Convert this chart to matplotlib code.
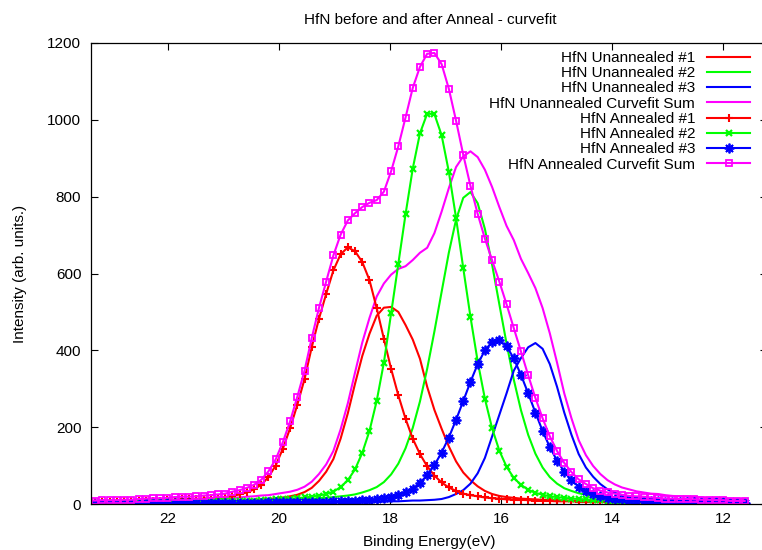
import matplotlib
matplotlib.use("Agg")
import matplotlib.pyplot as plt

plt.rcParams['font.family'] = ['Liberation Sans', 'DejaVu Sans']

# binding energy grid (eV), shared by all curves
energy = [23.44, 23.31, 23.18, 23.05, 22.92, 22.79, 22.66, 22.53, 22.40, 22.27,
          22.14, 22.01, 21.88, 21.75, 21.62, 21.49, 21.36, 21.23, 21.10, 20.97,
          20.84, 20.71, 20.58, 20.45, 20.32, 20.19, 20.06, 19.93, 19.80, 19.67,
          19.54, 19.41, 19.28, 19.15, 19.02, 18.89, 18.76, 18.63, 18.50, 18.37,
          18.24, 18.11, 17.98, 17.85, 17.72, 17.59, 17.46, 17.33, 17.20, 17.07,
          16.94, 16.81, 16.68, 16.55, 16.42, 16.29, 16.16, 16.03, 15.90, 15.77,
          15.64, 15.51, 15.38, 15.25, 15.12, 14.99, 14.86, 14.73, 14.60, 14.47,
          14.34, 14.21, 14.08, 13.95, 13.82, 13.69, 13.56, 13.43, 13.30, 13.17,
          13.04, 12.91, 12.78, 12.65, 12.52, 12.39, 12.26, 12.13, 12.00, 11.87,
          11.74, 11.61]

unann_1 = [3, 3, 3, 3, 3, 4, 4, 4, 4, 4,
           5, 5, 5, 5, 6, 6, 6, 7, 7, 8,
           8, 9, 10, 11, 12, 13, 15, 17, 20, 24,
           31, 42, 60, 84, 117, 170, 236, 313, 385, 443,
           490, 511, 513, 500, 466, 428, 378, 305, 245, 196,
           150, 111, 82, 62, 46, 34, 26, 21, 18, 16,
           14, 13, 12, 11, 10, 10, 9, 9, 8, 8,
           7, 7, 7, 6, 6, 6, 5, 5, 5, 5,
           4, 4, 4, 4, 4, 4, 3, 3, 3, 3,
           3, 3]

unann_2 = [2, 3, 3, 3, 3, 3, 3, 3, 3, 4,
           4, 4, 4, 4, 4, 5, 5, 5, 6, 6,
           6, 7, 7, 7, 8, 8, 9, 10, 11, 11,
           12, 13, 15, 16, 18, 20, 22, 25, 30, 36,
           44, 57, 77, 105, 145, 198, 267, 352, 449, 552,
           654, 740, 797, 812, 783, 716, 623, 520, 418, 324,
           244, 180, 131, 95, 70, 53, 41, 34, 28, 24,
           21, 19, 17, 16, 14, 13, 12, 11, 10, 10,
           9, 8, 8, 7, 7, 6, 6, 6, 5, 5,
           5, 5]

unann_3 = [1, 1, 1, 1, 1, 1, 1, 1, 1, 1,
           1, 1, 1, 1, 1, 2, 2, 2, 2, 2,
           2, 2, 2, 2, 2, 2, 2, 2, 2, 2,
           2, 3, 3, 3, 3, 4, 4, 4, 5, 5,
           6, 6, 7, 7, 8, 9, 9, 10, 11, 13,
           18, 26, 36, 53, 80, 120, 176, 232, 288, 347,
           380, 408, 419, 404, 364, 305, 238, 180, 130, 95,
           71, 52, 38, 29, 23, 19, 16, 14, 12, 11,
           10, 9, 8, 8, 7, 7, 6, 6, 6, 5,
           5, 5]

unann_sum = [6, 7, 7, 7, 7, 8, 8, 8, 8, 9,
             10, 10, 10, 10, 11, 13, 13, 14, 15, 16,
             16, 17, 19, 20, 22, 23, 26, 29, 32, 37,
             45, 58, 78, 103, 138, 194, 262, 342, 420, 484,
             540, 574, 597, 612, 619, 635, 654, 667, 705, 761,
             822, 877, 905, 918, 903, 870, 825, 773, 724, 687,
             638, 601, 562, 510, 444, 368, 288, 223, 166, 127,
             99, 78, 62, 51, 43, 38, 33, 30, 27, 26,
             23, 21, 20, 19, 18, 17, 15, 15, 14, 13,
             13, 13]

ann_1 = [5, 5, 6, 6, 6, 7, 7, 8, 8, 9,
         9, 10, 11, 12, 12, 13, 14, 15, 16, 18,
         21, 25, 30, 38, 50, 70, 100, 144, 197, 258,
         325, 408, 482, 547, 608, 650, 668, 658, 630, 583,
         510, 430, 352, 283, 222, 170, 130, 98, 74, 56,
         43, 34, 27, 23, 20, 17, 15, 14, 12, 11,
         11, 10, 9, 9, 8, 7, 7, 7, 6, 6,
         5, 5, 5, 5, 4, 4, 4, 4, 4, 3,
         3, 3, 3, 3, 3, 3, 3, 2, 2, 2,
         2, 2]

ann_2 = [3, 3, 3, 3, 3, 3, 3, 4, 4, 4,
         4, 4, 5, 5, 5, 5, 6, 6, 7, 7,
         8, 8, 9, 9, 10, 11, 12, 13, 14, 15,
         17, 19, 22, 26, 32, 44, 62, 90, 133, 190,
         268, 368, 496, 625, 754, 873, 965, 1016, 1015, 960,
         865, 745, 614, 487, 371, 274, 197, 139, 97, 68,
         50, 37, 29, 24, 20, 18, 16, 14, 13, 12,
         11, 10, 9, 9, 8, 7, 7, 7, 6, 6,
         5, 5, 5, 5, 4, 4, 4, 4, 4, 3,
         3, 3]

ann_3 = [1, 1, 1, 1, 1, 1, 1, 1, 2, 2,
         2, 2, 2, 2, 2, 2, 2, 2, 2, 2,
         3, 3, 3, 3, 3, 4, 4, 4, 4, 5,
         5, 5, 6, 6, 7, 7, 8, 9, 10, 11,
         13, 15, 18, 23, 30, 40, 55, 75, 101, 134,
         173, 219, 268, 318, 364, 400, 422, 426, 411, 379,
         336, 288, 238, 190, 148, 113, 84, 62, 45, 34,
         25, 20, 16, 13, 12, 10, 9, 8, 7, 7,
         6, 6, 5, 5, 5, 4, 4, 4, 4, 3,
         3, 3]

ann_sum = [9, 9, 10, 10, 10, 11, 11, 13, 14, 15,
           15, 16, 18, 19, 19, 20, 22, 23, 25, 27,
           32, 36, 42, 50, 63, 85, 116, 161, 215, 279,
           347, 432, 510, 579, 647, 701, 738, 757, 773, 784,
           791, 813, 866, 931, 1006, 1083, 1138, 1172, 1174, 1145,
           1081, 998, 909, 828, 755, 691, 634, 579, 520, 458,
           397, 335, 276, 223, 176, 138, 107, 83, 64, 52,
           41, 35, 30, 27, 24, 21, 20, 19, 17, 16,
           14, 14, 13, 13, 12, 11, 11, 10, 10, 8,
           8, 8]

x_ticks = [22, 20, 18, 16, 14, 12]
y_ticks = [0, 200, 400, 600, 800, 1000, 1200]

red = '#ff0000'
green = '#00ff00'
blue = '#0000ff'
magenta = '#ff00ff'

fig = plt.figure(figsize=(7.62, 5.5), dpi=100)
# axes run past the right edge of the picture, like the original
ax = fig.add_axes([91 / 762, 46 / 550, 676.4 / 762, 461 / 550])

lw = 1.5
ax.plot(energy, unann_1, color=red, lw=lw, label='HfN Unannealed #1')
ax.plot(energy, unann_2, color=green, lw=lw, label='HfN Unannealed #2')
ax.plot(energy, unann_3, color=blue, lw=lw, label='HfN Unannealed #3')
ax.plot(energy, unann_sum, color=magenta, lw=lw, label='HfN Unannealed Curvefit Sum')
ax.plot(energy, ann_1, color=red, lw=lw, marker='+', ms=6, mew=1.5,
        label='HfN Annealed #1')
ax.plot(energy, ann_2, color=green, lw=lw, marker='x', ms=5, mew=1.6,
        label='HfN Annealed #2')
ax.plot(energy, ann_3, color=blue, lw=lw, marker=(8, 2, 0), ms=7, mew=1.3,
        label='HfN Annealed #3')
ax.plot(energy, ann_sum, color=magenta, lw=lw, marker='s', ms=5, mew=1.3,
        mfc='none', label='HfN Annealed Curvefit Sum')

ax.set_xlim(23.387, 11.2)
ax.set_ylim(0, 1200)
ax.set_xticks(x_ticks)
ax.set_yticks(y_ticks)
ax.tick_params(direction='in', top=True, right=True, length=4.8, width=0.8,
               labelsize=11, colors='black')
ax.tick_params(axis='x', pad=6)
ax.tick_params(axis='y', pad=7)
for s in ax.spines.values():
    s.set_linewidth(0.9)

ax.set_xlabel('Binding Energy(eV)', fontsize=11, va='center')
ax.xaxis.set_label_coords(0.5, (504 - 542) / 461)
ax.set_ylabel('Intensity (arb. units.)', fontsize=11, va='center')
ax.yaxis.set_label_coords((20 - 91) / 676.4, 0.5)

fig.text(430 / 762, 1 - 20 / 550, 'HfN before and after Anneal - curvefit',
         ha='center', va='center', fontsize=11)

ax.legend(loc='upper right', bbox_to_anchor=(750 / 762, 1 - 51 / 550),
          bbox_transform=fig.transFigure, frameon=False, markerfirst=False,
          fontsize=11, handlelength=2.8, handletextpad=0.8,
          labelspacing=0.08, borderpad=0, borderaxespad=0)

fig.savefig('out.png', dpi=100)
